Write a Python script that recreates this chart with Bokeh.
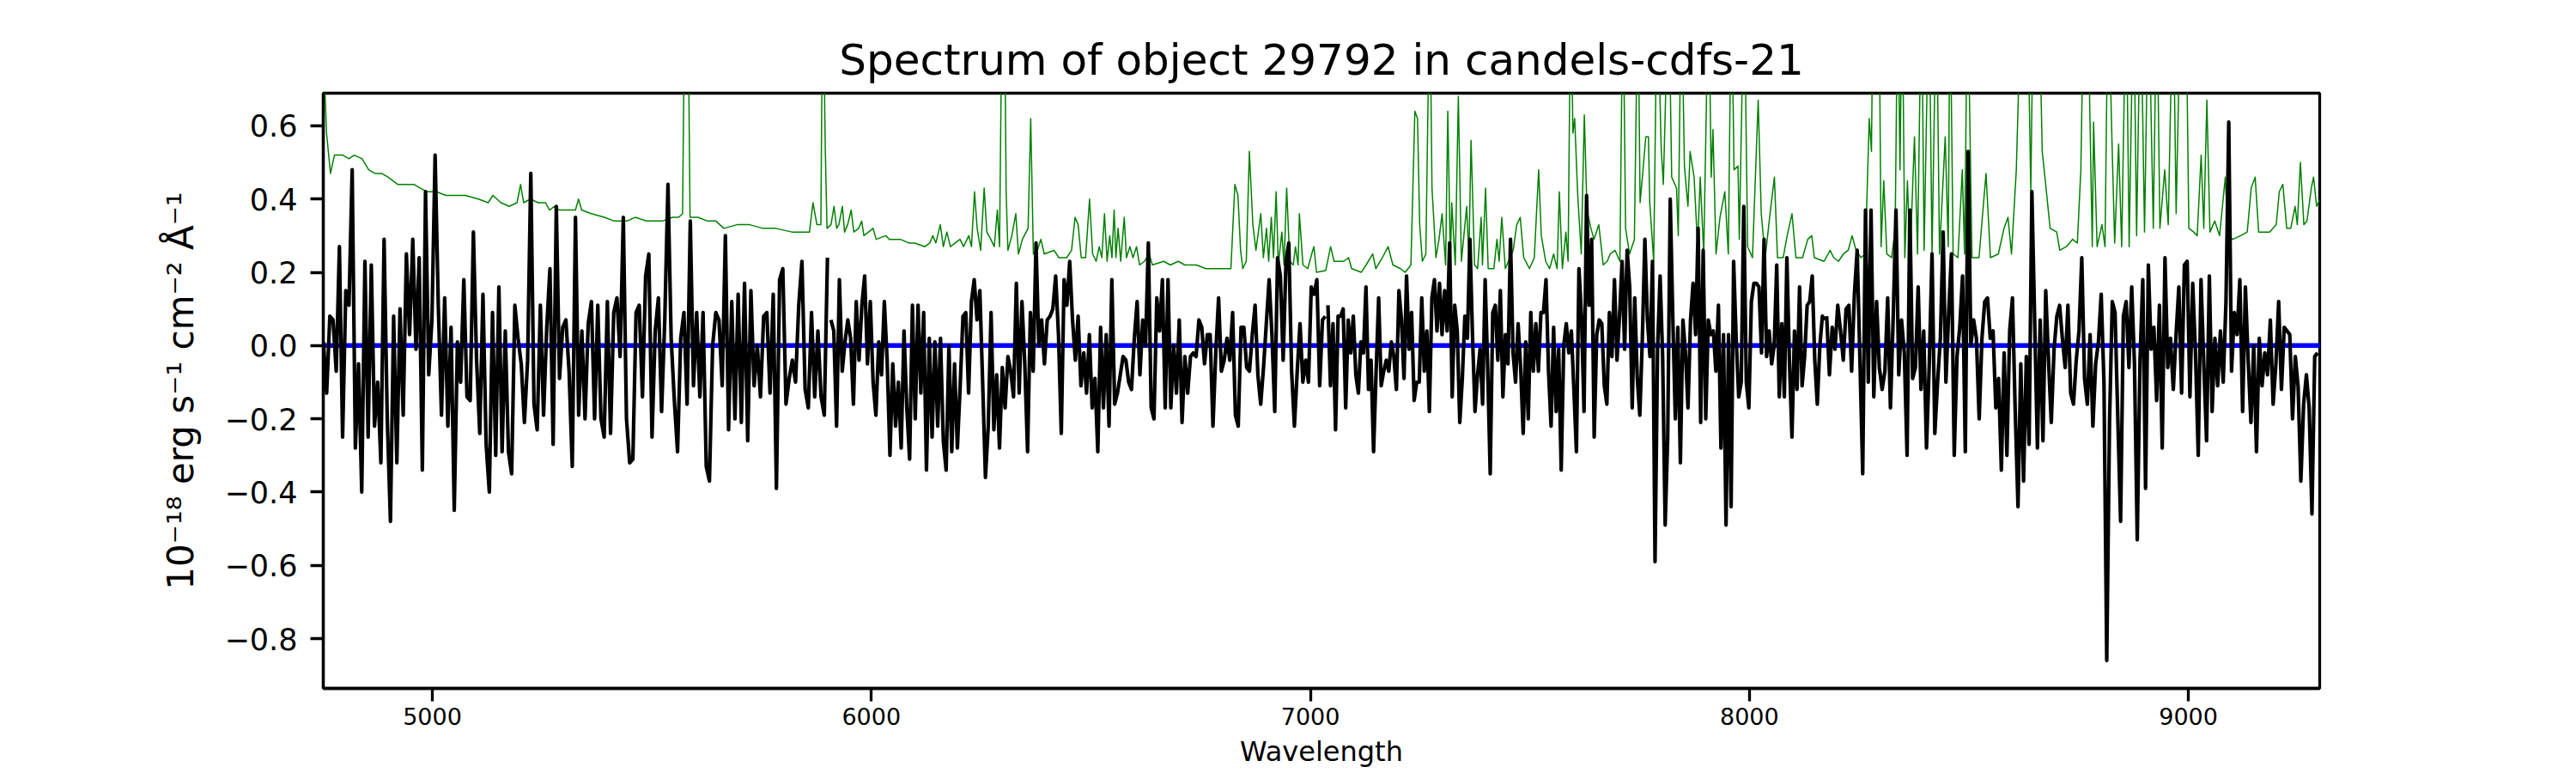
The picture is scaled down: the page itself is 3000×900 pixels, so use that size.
import numpy as np
from bokeh.plotting import figure
from bokeh.models import Range1d, FixedTicker, CustomJSTickFormatter
from bokeh.embed import file_html
from bokeh.resources import INLINE

title_text = "Spectrum of object 29792 in candels-cdfs-21"
x_label = "Wavelength"
y_label = "10⁻¹⁸ erg s⁻¹ cm⁻² Å⁻¹"

x_ticks = [5000, 6000, 7000, 8000, 9000]
y_ticks = [-0.8, -0.6, -0.4, -0.2, 0.0, 0.2, 0.4, 0.6]

# Observed flux, read in four wavelength stretches (evenly sampled inside each)
flux_seg_start = [4752, 5908, 7040, 8176]
flux_seg_end = [5900, 7034, 8172, 9294]

flux_seg1 = [0.01,-0.13,0.08,0.07,-0.07,0.27,-0.25,0.15,0.11,0.48,-0.28,-0.05,-0.40,0.23,-0.25,0.22,-0.22,-0.10,-0.32,0.29,-0.20,-0.48,0.08,-0.32,0.10,-0.19,0.25,0.03,0.29,-0.01,0.24,-0.34,0.42,-0.08,0.07,0.52,0.11,-0.19,0.13,-0.22,0.05,-0.45,0.01,-0.10,0.18,-0.14,-0.15,0.31,-0.04,-0.24,0.14,-0.27,-0.40,0.09,-0.30,0.16,-0.29,0.04,-0.29,-0.35,0.11,0.02,-0.05,-0.21,-0.04,0.47,-0.16,-0.23,0.11,-0.19,0.05,0.21,-0.27,0.38,-0.09,0.05,0.07,-0.07,-0.33,0.35,-0.19,0.04,-0.20,0.06,0.12,-0.20,0.11,-0.20,-0.25,0.12,-0.24,0.09,0.13,-0.03,0.35,-0.20,-0.32,-0.31,0.09,0.11,-0.14,0.19,0.25,-0.25,0.04,0.13,-0.18,0.07,0.44,0.02,-0.15,-0.29,0.02,0.09,-0.16,0.34,-0.11,0.09,-0.14,0.09,-0.33,-0.37,0.00,0.09,0.07,-0.11,0.30,-0.23,0.12,-0.20,0.14,-0.21,0.17,-0.26,0.15,-0.11,0.00,-0.14,0.08,0.09,-0.13,0.14,-0.39,0.18,0.21,-0.16,-0.09,-0.04,-0.10,0.11,0.23,-0.12,-0.17,0.09,-0.14,0.04,-0.14,-0.19,0.24]

flux_seg2 = [0.07,0.04,-0.22,0.18,-0.07,0.01,0.07,0.02,-0.16,0.12,-0.04,0.11,0.19,-0.05,0.12,-0.10,-0.19,0.01,-0.08,0.12,-0.04,-0.30,-0.05,-0.22,-0.10,-0.28,0.04,-0.17,-0.31,0.11,-0.20,0.11,-0.13,0.09,-0.34,0.02,-0.25,0.01,-0.22,0.02,-0.26,-0.34,0.00,-0.29,-0.05,-0.28,-0.11,0.08,0.09,-0.13,0.12,0.18,0.07,0.15,-0.10,-0.36,-0.22,0.09,-0.23,-0.08,-0.28,-0.06,-0.17,-0.03,-0.07,-0.14,0.17,-0.13,0.12,-0.05,-0.29,0.09,-0.07,0.28,0.00,0.07,-0.05,0.07,0.08,0.10,0.19,0.03,-0.24,0.18,0.11,0.23,0.07,-0.04,0.08,-0.11,-0.02,-0.13,0.03,-0.17,-0.09,-0.29,0.05,-0.17,0.03,-0.22,0.18,-0.16,-0.13,-0.08,-0.03,-0.04,-0.10,-0.12,0.02,0.12,-0.08,0.07,0.00,0.28,-0.17,-0.20,0.13,0.04,0.18,-0.17,0.18,-0.17,0.00,-0.13,0.07,-0.21,-0.03,-0.13,-0.03,-0.02,-0.03,0.07,0.05,-0.05,0.03,0.03,-0.22,-0.02,0.13,-0.07,-0.04,0.02,-0.04,0.09,-0.19,-0.22,0.05,0.05,-0.06,-0.07,0.03,0.11,-0.08,-0.16,-0.06,0.06,0.18,0.03,-0.18,0.24,0.19,-0.04,0.23,0.28,-0.07,-0.22,-0.07,0.06,-0.10,-0.04,-0.10,0.16,0.14,0.18,-0.11,0.07,0.08]

flux_seg3 = [0.11,-0.11,0.06,-0.23,0.08,0.08,0.10,-0.17,0.07,-0.02,0.08,-0.08,-0.13,0.01,-0.02,0.16,-0.12,-0.04,-0.29,-0.07,0.13,-0.11,-0.07,-0.04,-0.07,0.01,-0.03,-0.12,0.15,0.07,-0.09,0.19,-0.01,0.09,-0.15,-0.10,-0.10,0.13,-0.07,0.04,-0.18,0.13,0.18,0.04,0.17,0.03,0.15,0.04,0.28,-0.14,0.11,0.04,-0.21,-0.09,0.08,0.02,0.29,0.03,-0.18,-0.08,-0.01,-0.16,0.18,-0.06,-0.35,0.09,0.11,-0.04,0.15,-0.14,0.03,-0.05,0.29,-0.02,-0.10,0.06,-0.06,-0.24,0.01,-0.20,0.09,-0.07,0.06,-0.07,0.09,0.09,0.18,-0.07,-0.22,0.05,-0.18,-0.01,-0.34,0.00,0.06,-0.02,0.04,-0.12,-0.29,0.21,0.08,-0.18,0.41,0.11,0.29,-0.25,0.03,0.07,0.06,-0.11,-0.16,0.09,-0.03,0.18,-0.04,0.08,0.23,-0.01,0.26,0.16,-0.17,0.13,-0.09,-0.19,0.02,0.29,0.07,-0.03,0.23,-0.59,-0.01,0.19,-0.03,-0.49,-0.25,0.40,0.08,-0.20,0.05,-0.32,0.07,-0.02,-0.17,0.07,0.17,0.03,0.32,-0.21,0.26,-0.20,0.07,0.03,0.04,-0.07,0.11,-0.28,0.03,-0.49,0.03,-0.44,0.23,0.02,-0.14,-0.10,0.38,-0.10,-0.17,0.12,0.17,0.17,0.16,-0.02,0.29,-0.03,0.04,-0.05,0.00,0.22,-0.14,0.06,-0.14,0.24,-0.04,-0.25,0.04,-0.12,0.16,-0.11,-0.03,0.11,0.12,0.19,-0.04,-0.16,0.00,0.08,0.07]

flux_seg4 = [0.08,-0.08,0.05,-0.01,0.11,0.04,-0.04,0.10,0.11,-0.07,0.14,0.26,-0.04,-0.35,0.37,-0.10,0.37,-0.14,0.12,-0.06,-0.12,-0.07,0.13,-0.17,0.08,0.37,-0.08,0.07,-0.02,-0.30,0.37,-0.09,-0.06,0.16,-0.12,0.04,-0.28,-0.05,0.25,-0.24,-0.10,0.02,0.31,-0.10,0.09,0.25,-0.30,-0.03,0.05,0.19,-0.29,0.53,0.00,0.07,0.02,-0.20,0.02,0.12,0.13,0.02,0.04,-0.17,-0.09,-0.34,-0.02,-0.30,0.04,0.13,-0.18,-0.44,-0.05,-0.37,-0.03,-0.27,0.42,0.07,-0.28,0.07,-0.26,0.15,-0.04,-0.21,-0.01,0.08,0.11,0.02,-0.06,0.11,-0.13,-0.16,-0.04,0.04,0.24,-0.09,-0.16,0.03,-0.22,-0.05,0.01,0.14,-0.10,-0.86,-0.21,0.12,0.09,-0.20,-0.48,0.08,0.12,-0.06,0.16,-0.05,-0.53,-0.04,0.18,-0.39,0.22,-0.01,0.05,-0.15,0.11,-0.28,0.24,-0.06,0.02,-0.12,0.03,0.16,-0.13,0.22,0.23,-0.14,0.17,-0.02,-0.30,0.18,-0.05,-0.26,0.19,-0.18,0.02,-0.11,0.04,-0.10,0.12,0.61,-0.07,0.09,0.03,0.18,-0.18,0.16,-0.04,-0.21,0.00,-0.29,0.02,-0.11,-0.02,-0.08,0.07,-0.16,-0.05,0.12,-0.12,0.05,0.04,0.03,-0.20,-0.03,-0.11,-0.37,-0.16,-0.08,-0.17,-0.46,-0.03,-0.02]

# Sky / noise spectrum (green), read as wavelength-value pairs
sky_wave = [4752,4759,4768,4777,4796,4810,4822,4840,4855,4869,4884,4899,4921,4943,4958,4972,4987,5009,5031,5046,5075,5105,5127,5138,5156,5175,5193,5201,5208,5223,5241,5258,5267,5278,5289,5311,5326,5333,5340,5362,5392,5414,5443,5462,5488,5524,5547,5561,5570,5575,5582,5587,5605,5627,5646,5664,5694,5723,5753,5782,5819,5859,5867,5876,5885,5889,
            5890,5895,5899,5908,5915,5921,5926,5934,5939,5946,5954,5960,5971,5978,5983,6004,6011,6033,6041,6066,6085,6099,6122,6133,6140,6147,6157,6164,6172,6180,6202,6210,6222,6228,6235,6241,6249,6257,6263,6272,6280,6287,6292,6298,6303,6307,6311,6320,6329,6335,6344,6357,6363,6369,6378,6386,6394,6416,6427,6445,6456,6464,6471,6478,6488,6497,6504,6512,6519,6525,6531,6537,6543,6548,6553,6557,6562,6568,6576,6581,6589,6596,6604,6611,6622,6633,6640,6666,6681,6699,6714,6740,6762,6784,6799,6819,6828,6835,6841,6846,6854,6861,6869,6876,6887,6893,6900,6905,6911,6916,6922,6927,6935,6940,6946,6953,6961,6966,6972,6975,6983,6994,7003,7008,7014,
            7035,7046,7054,7065,7076,7087,7094,7116,7127,7142,7149,7164,7177,7188,7205,7216,7229,7238,7244,7249,7255,7263,7272,7277,7286,7293,7300,7308,7313,7319,7322,7330,7337,7344,7356,7361,7366,7374,7381,7389,7392,7399,7405,7418,7425,7430,7436,7444,7462,7470,7478,7486,7499,7510,7520,7526,7536,7545,7554,7562,7567,7574,7582,7587,7593,7598,7602,7609,7617,7624,7630,7639,7646,7657,7667,7676,7683,7694,7705,7712,7718,7727,7738,7746,7751,7757,7764,7770,7773,7782,7790,7799,7804,7816,7823,7834,7838,7845,7852,7860,7865,7874,7882,7888,7896,7907,7913,7917,7924,7933,7944,7952,7959,7965,7974,7977,7988,7996,8007,8020,8027,8036,8047,8057,8064,8077,8086,8097,8106,8121,8133,8142,8148,
            8170,8184,8192,8203,8214,8225,8234,8243,8254,8264,8273,8278,8282,8287,8295,8300,8306,8313,8324,8332,8338,8343,8348,8354,8360,8366,8376,8383,8392,8398,8409,8416,8426,8433,8446,8453,8457,8464,8475,8485,8490,8497,8507,8523,8532,8539,8549,8567,8580,8589,8597,8608,8620,8633,8641,8647,8659,8667,8674,8685,8700,8707,8722,8736,8747,8755,8762,8770,8781,8784,8792,8803,8810,8817,8825,8832,8841,8848,8858,8865,8875,8882,8891,8900,8909,8920,8928,8935,8946,8954,8965,8972,8983,8994,9001,9012,9020,9029,9035,9042,9049,9060,9071,9084,9090,9101,9119,9134,9143,9152,9160,9174,9185,9200,9207,9215,9224,9233,9243,9248,9255,9263,9270,9280,9285,9292,9300]

sky_flux = [0.80,0.58,0.47,0.52,0.52,0.51,0.52,0.51,0.48,0.47,0.47,0.46,0.44,0.44,0.44,0.43,0.42,0.42,0.41,0.41,0.41,0.40,0.39,0.41,0.39,0.38,0.39,0.44,0.39,0.40,0.39,0.39,0.37,0.38,0.37,0.37,0.37,0.40,0.37,0.36,0.35,0.34,0.34,0.35,0.34,0.34,0.35,0.35,0.36,1.0,1.0,0.35,0.35,0.34,0.34,0.32,0.33,0.33,0.32,0.32,0.31,0.31,0.39,0.33,0.33,1.0,
            1.0,0.54,0.32,0.33,0.38,0.32,0.33,0.38,0.31,0.33,0.37,0.31,0.32,0.34,0.30,0.32,0.29,0.30,0.29,0.29,0.28,0.28,0.27,0.28,0.30,0.28,0.33,0.27,0.31,0.27,0.29,0.27,0.30,0.27,0.42,0.32,0.26,0.43,0.31,0.29,0.27,0.37,0.27,1.0,1.0,0.42,0.26,0.30,0.36,0.25,0.29,0.32,0.62,0.25,0.26,0.29,0.25,0.26,0.24,0.24,0.26,0.35,0.33,0.24,0.24,0.40,0.25,0.23,0.27,0.24,0.36,0.23,0.30,0.24,0.37,0.24,0.32,0.23,0.35,0.24,0.27,0.24,0.27,0.22,0.23,0.25,0.22,0.23,0.22,0.23,0.22,0.22,0.21,0.21,0.21,0.21,0.44,0.41,0.26,0.21,0.23,0.53,0.33,0.26,0.36,0.24,0.32,0.23,0.35,0.24,0.42,0.22,0.31,0.22,0.43,0.23,0.22,0.27,0.22,0.36,0.22,0.21,0.25,0.27,0.20,
            0.205,0.27,0.23,0.23,0.23,0.24,0.21,0.20,0.22,0.25,0.21,0.24,0.27,0.22,0.21,0.20,0.22,0.64,0.62,0.33,0.23,0.25,1.0,0.43,0.24,0.29,0.36,0.22,0.64,0.23,0.39,0.22,0.68,0.23,0.38,0.24,0.56,0.22,0.21,0.35,0.22,0.43,0.21,0.21,0.29,0.23,0.35,0.21,0.26,0.33,0.35,0.24,0.21,0.24,0.48,0.30,0.23,0.21,0.25,0.21,0.42,0.21,0.31,0.23,1.0,0.58,0.62,0.41,0.25,0.63,0.37,0.32,0.29,0.33,0.22,0.23,0.25,0.26,0.23,1.0,0.32,0.25,0.29,1.0,0.39,0.47,0.57,0.57,0.39,0.23,1.0,0.54,0.44,1.0,0.46,0.43,0.30,1.0,0.49,0.38,0.53,0.46,0.27,0.46,0.25,1.0,0.46,0.59,0.25,0.35,0.42,0.25,1.0,0.48,0.49,0.29,1.0,0.27,0.24,0.67,0.36,0.24,0.36,0.46,0.24,0.24,0.30,0.36,0.24,0.24,0.29,0.30,0.24,
            0.23,0.26,0.24,0.23,0.25,0.26,0.30,0.26,0.24,0.25,0.62,0.53,1.0,1.0,1.0,0.27,0.45,0.25,0.24,0.32,1.0,0.48,1.0,0.24,0.45,0.24,0.57,0.25,1.0,0.26,1.0,0.25,1.0,0.25,0.57,0.27,1.0,0.25,0.24,0.48,0.25,1.0,0.24,0.24,0.37,0.47,0.24,0.25,0.32,0.35,0.25,0.48,1.0,1.0,0.42,1.0,1.0,0.53,0.45,0.32,0.31,0.26,0.27,0.29,0.28,0.48,1.0,1.0,0.27,0.61,0.27,0.33,0.27,1.0,0.60,0.28,0.55,0.27,1.0,0.27,1.0,0.30,1.0,0.31,1.0,0.32,1.0,0.32,0.48,0.33,1.0,0.36,1.0,1.0,0.32,0.31,0.30,0.52,0.32,0.67,0.31,0.34,0.30,0.46,0.30,0.29,0.30,0.31,0.43,0.46,0.31,0.31,0.31,0.33,0.42,0.44,0.32,0.32,0.38,0.33,0.50,0.33,0.34,0.43,0.46,0.38,0.40]

# Continuum model (zero level)
model_wave = [4745, 9305]
model_flux = [0.0, 0.0]

p = figure(width=2992, height=900,
           x_range=Range1d(4751.6, 9299), y_range=Range1d(-0.936, 0.689),
           output_backend="svg", toolbar_location=None,
           min_border_left=376, min_border_right=291,
           min_border_top=108, min_border_bottom=99)

p.title.text = title_text
p.title.align = "center"
p.title.text_font = "DejaVu Sans"
p.title.text_font_size = "50px"
p.title.text_font_style = "normal"
p.title.text_color = "black"
p.title.standoff = 20

p.xgrid.visible = False
p.ygrid.visible = False
p.outline_line_color = "black"
p.outline_line_width = 3.3
p.outline_line_alpha = 1.0

for ax in (p.xaxis, p.yaxis):
    ax.axis_line_width = 3.3
    ax.axis_line_color = "black"
    ax.major_tick_line_width = 3.3
    ax.major_tick_line_color = "black"
    ax.major_tick_out = 15
    ax.major_tick_in = 0
    ax.minor_tick_line_color = None
    ax.major_label_text_font = "DejaVu Sans"
    ax.major_label_text_color = "black"
    ax.axis_label_text_font = "DejaVu Sans"
    ax.axis_label_text_font_style = "normal"
    ax.axis_label_text_color = "black"

p.xaxis.ticker = FixedTicker(ticks=x_ticks)
p.yaxis.ticker = FixedTicker(ticks=y_ticks)
p.yaxis.formatter = CustomJSTickFormatter(code="return tick.toFixed(1).replace('-', '\u2212');")

p.xaxis.major_label_text_font_size = "27px"
p.yaxis.major_label_text_font_size = "35px"
p.xaxis.major_label_standoff = 7
p.yaxis.major_label_standoff = 15

p.xaxis.axis_label = x_label
p.xaxis.axis_label_text_font_size = "32px"
p.xaxis.axis_label_standoff = 9
p.yaxis.axis_label = y_label
p.yaxis.axis_label_text_font_size = "42px"
p.yaxis.axis_label_standoff = 24

p.line(sky_wave, sky_flux, line_color="#008000", line_width=1.5, line_join="round")
p.line(model_wave, model_flux, line_color="#0000ff", line_width=5.5)
segs = [flux_seg1, flux_seg2, flux_seg3, flux_seg4]
for s0, s1, vals in zip(flux_seg_start, flux_seg_end, segs):
    w = np.linspace(s0, s1, len(vals))
    p.line(w, vals, line_color="black", line_width=4.2, line_join="round")

open("out.html", "w").write(file_html(p, INLINE))
